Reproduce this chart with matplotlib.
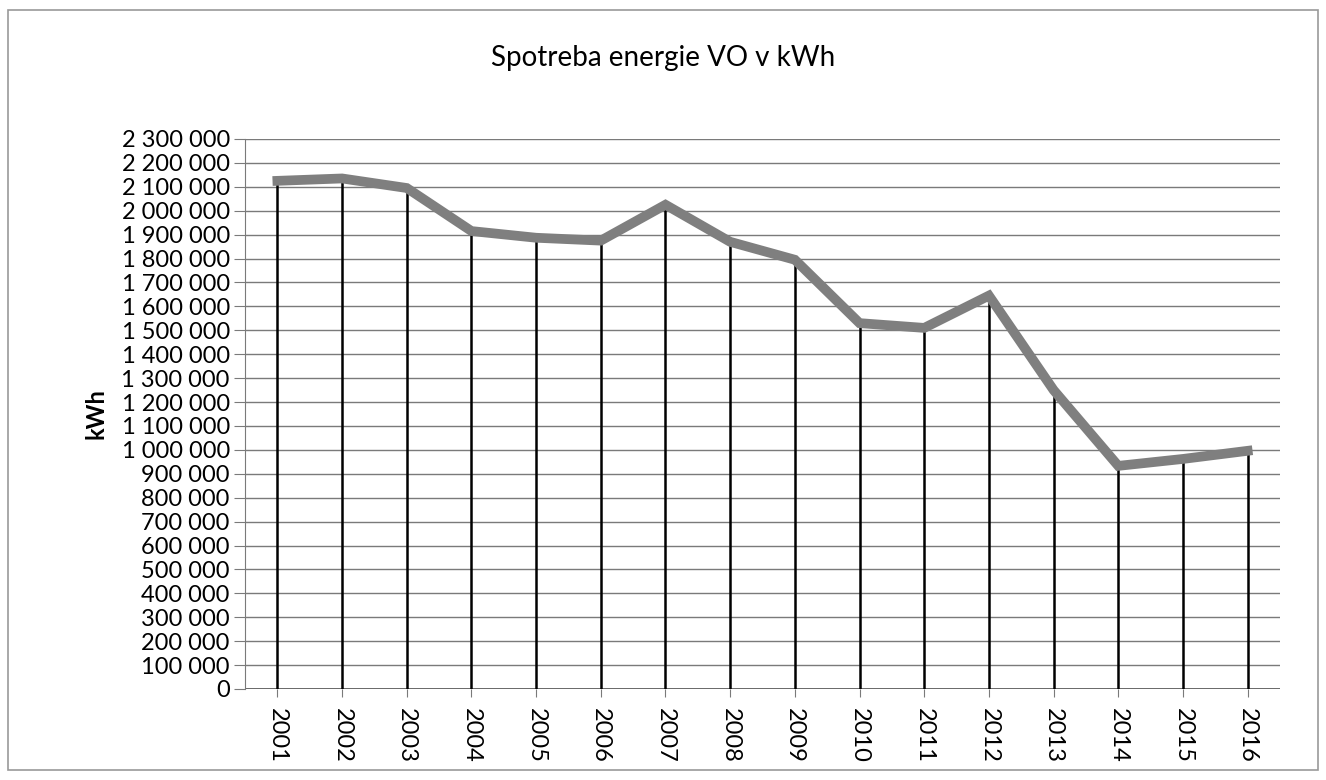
import matplotlib
matplotlib.use("Agg")
import matplotlib.pyplot as plt
from matplotlib.patches import Rectangle
from matplotlib.ticker import FuncFormatter

years = [str(y) for y in range(2001, 2017)]
consumption = [2125000, 2135000, 2095000, 1915000, 1887000, 1875000, 2025000, 1870000,
               1795000, 1530000, 1510000, 1645000, 1250000, 933000, 962000, 996000]
title = "Spotreba energie VO v kWh"
ylabel = "kWh"

plt.rcParams['font.family'] = ['Lato', 'DejaVu Sans']

fig = plt.figure(figsize=(13.26, 7.8), dpi=100)
fig.patches.append(Rectangle((0.006, 0.013), 0.988, 0.974, transform=fig.transFigure,
                             fill=False, edgecolor='#999999', linewidth=1.2))
ax = fig.add_axes([0.1848, 0.1167, 0.7805, 0.7051])

x = list(range(len(years)))
ax.set_xlim(-0.5, len(years) - 0.5)
ax.set_ylim(0, 2300000)
ax.set_yticks(range(0, 2300001, 100000))
ax.yaxis.set_major_formatter(FuncFormatter(lambda v, p: f"{int(v):,}".replace(",", " ")))
ax.grid(axis='y', color='#7a7a7a', linewidth=1.0)
ax.set_axisbelow(True)

ax.vlines(x, 0, consumption, colors='black', linewidth=1.8, zorder=2)
ax.plot(x, consumption, color='#7f7f7f', linewidth=7, solid_joinstyle='miter', zorder=3)

ax.set_xticks(x)
ax.set_xticklabels(years, rotation=270, fontsize=17)
ax.tick_params(axis='y', labelsize=17, length=8, color='#7a7a7a', pad=3)
ax.tick_params(axis='x', length=6, color='#7a7a7a', pad=8)

for s in ['top', 'right', 'bottom']:
    ax.spines[s].set_visible(False)
ax.spines['left'].set_color('#7a7a7a')
ax.axhline(0, color='#555555', linewidth=1.2, zorder=1)

ax.set_ylabel(ylabel, fontsize=17, fontweight='bold', labelpad=10)
fig.text(0.5, 0.926, title, ha='center', va='center', fontsize=20)

fig.savefig("out.png", dpi=100)
